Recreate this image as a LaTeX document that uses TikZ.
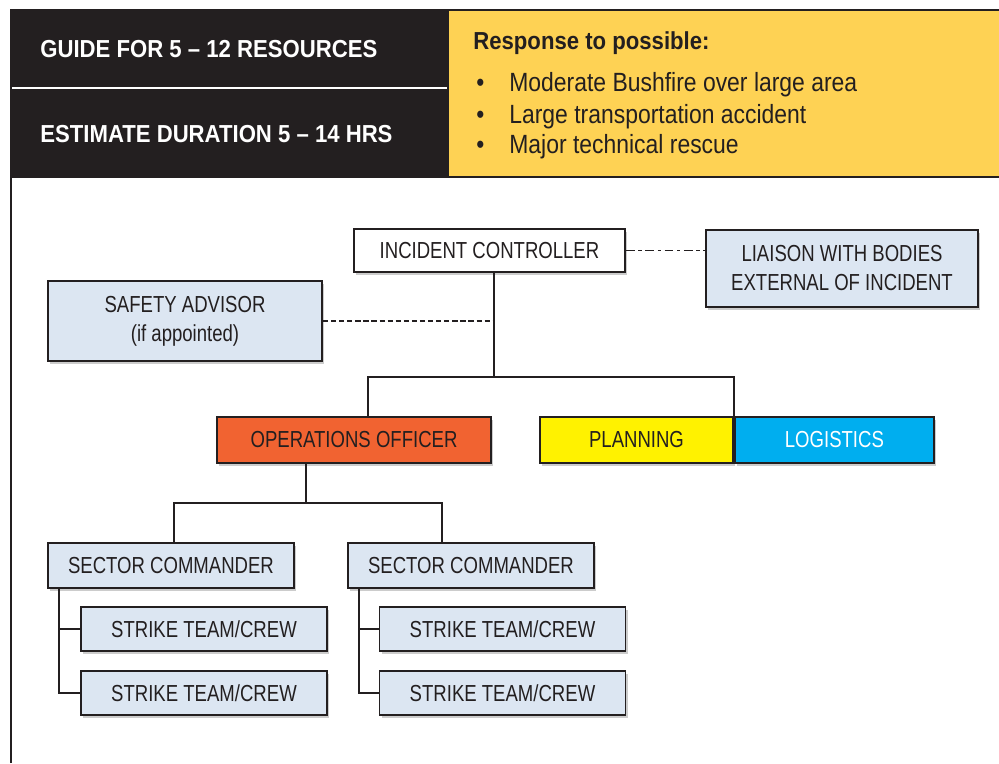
\documentclass[tikz,border=0pt]{standalone}
\usepackage{fontspec}
\setmainfont{Liberation Sans}
\newfontfamily\boxfont[FakeStretch=0.8]{Liberation Sans}
\newfontfamily\listfont[FakeStretch=0.87]{Liberation Sans}
\newfontfamily\headfont[FakeStretch=0.9]{Liberation Sans}
\usetikzlibrary{shadows,positioning}
\definecolor{ink}{RGB}{35,31,32}
\definecolor{headyellow}{RGB}{254,210,84}
\definecolor{paleblue}{RGB}{220,230,242}
\definecolor{opsorange}{RGB}{241,99,49}
\definecolor{planyellow}{RGB}{255,242,0}
\definecolor{logblue}{RGB}{0,174,239}

\begin{document}
\begin{tikzpicture}[x=0.02cm, y=-0.02cm, box/.style={draw=ink, line width=1.1pt, inner sep=0pt, align=center, text=ink, font=\boxfont\fontsize{13.2}{16.5}\selectfont, drop shadow={shadow xshift=1.3pt, shadow yshift=-1.5pt, fill=black!40, opacity=.5}}, pale/.style={box, fill=paleblue}, link/.style={draw=ink, line width=0.85pt}, headtext/.style={anchor=base west, inner sep=0pt, text=white, font=\headfont\bfseries\fontsize{14}{16}\selectfont}, itemtext/.style={anchor=base west, inner sep=0pt, text=ink, font=\listfont\fontsize{15}{17}\selectfont}]
\useasboundingbox (0,0) rectangle (999,763);
\fill[ink] (11,10) rectangle (449,177);
\fill[headyellow] (449,10) rectangle (999,177);
\draw[ink, line width=1.1pt] (11,763) -- (11,10) -- (999,10);
\draw[ink, line width=1.1pt] (11,177) -- (999,177);
\draw[white, line width=0.9pt] (12,88) -- (447,88);
\node[headtext] (guide) at (40,58) {GUIDE FOR 5 – 12 RESOURCES};
\node[headtext] (duration) at (40,143) {ESTIMATE DURATION 5 – 14 HRS};
\node[headtext, text=ink] (resp) at (473,49.5) {Response to possible:};
\node[itemtext] (item1) at (476,91.7) {\makebox[0.66cm][l]{\textbullet}Moderate Bushfire over large area};
\node[itemtext] (item2) at (476,123.3) {\makebox[0.66cm][l]{\textbullet}Large transportation accident};
\node[itemtext] (item3) at (476,154) {\makebox[0.66cm][l]{\textbullet}Major technical rescue};

\node[box, fill=white, minimum width=5.42cm, minimum height=0.86cm] (ic) at (489.5,250.5) {INCIDENT CONTROLLER};
\node[pale, minimum width=5.44cm, minimum height=1.54cm] (liaison) at (842,268.5) {LIAISON WITH BODIES\\EXTERNAL OF INCIDENT};
\node[pale, minimum width=5.48cm, minimum height=1.6cm] (safety) at (185,321) {SAFETY ADVISOR\\(if appointed)};
\node[box, fill=opsorange, minimum width=5.48cm, minimum height=0.92cm] (ops) at (354,440) {OPERATIONS OFFICER};
\node[box, fill=planyellow, minimum width=3.86cm, minimum height=0.92cm] (plan) at (636.5,440) {PLANNING};
\node[box, fill=logblue, text=white, minimum width=3.98cm, minimum height=0.92cm, right=0pt of plan] (logistics) {LOGISTICS};
\node[pale, minimum width=4.92cm, minimum height=0.9cm] (sc1) at (171,565.5) {SECTOR COMMANDER};
\node[pale, minimum width=4.92cm, minimum height=0.9cm] (sc2) at (471,565.5) {SECTOR COMMANDER};
\node[pale, minimum width=4.92cm, minimum height=0.88cm] (st1) at (204,629) {STRIKE TEAM/CREW};
\node[pale, minimum width=4.92cm, minimum height=0.88cm] (st2) at (204,693) {STRIKE TEAM/CREW};
\node[pale, minimum width=4.92cm, minimum height=0.88cm] (st3) at (502.5,629) {STRIKE TEAM/CREW};
\node[pale, minimum width=4.92cm, minimum height=0.88cm] (st4) at (502.5,693) {STRIKE TEAM/CREW};

\coordinate (trunk) at (494,377);
\coordinate (opsleg) at (368,377);
\coordinate (opsfork) at (306,503);
\coordinate (forkl) at (174,503);
\coordinate (forkr) at (442,503);
\coordinate (ladl) at (59,588);
\coordinate (ladr) at (359,588);
\draw[link, dash pattern=on 5pt off 2pt on 2pt off 2pt] (ic.east) -- (liaison.west |- ic.east);
\draw[link] (ic.south -| trunk) -- (trunk);
\draw[link, dash pattern=on 3pt off 1.6pt] (safety.east) -- (safety.east -| trunk);
\draw[link] (ops.north -| opsleg) -- (opsleg) -| (plan.north east);
\draw[link] (ops.south -| opsfork) -- (opsfork);
\draw[link] (sc1.north -| forkl) -- (forkl) -- (forkr) -- (sc2.north -| forkr);
\draw[link] (sc1.south -| ladl) |- (st1.west);
\draw[link] (sc1.south -| ladl) |- (st2.west);
\draw[link] (sc2.south -| ladr) |- (st3.west);
\draw[link] (sc2.south -| ladr) |- (st4.west);
\end{tikzpicture}
\end{document}
